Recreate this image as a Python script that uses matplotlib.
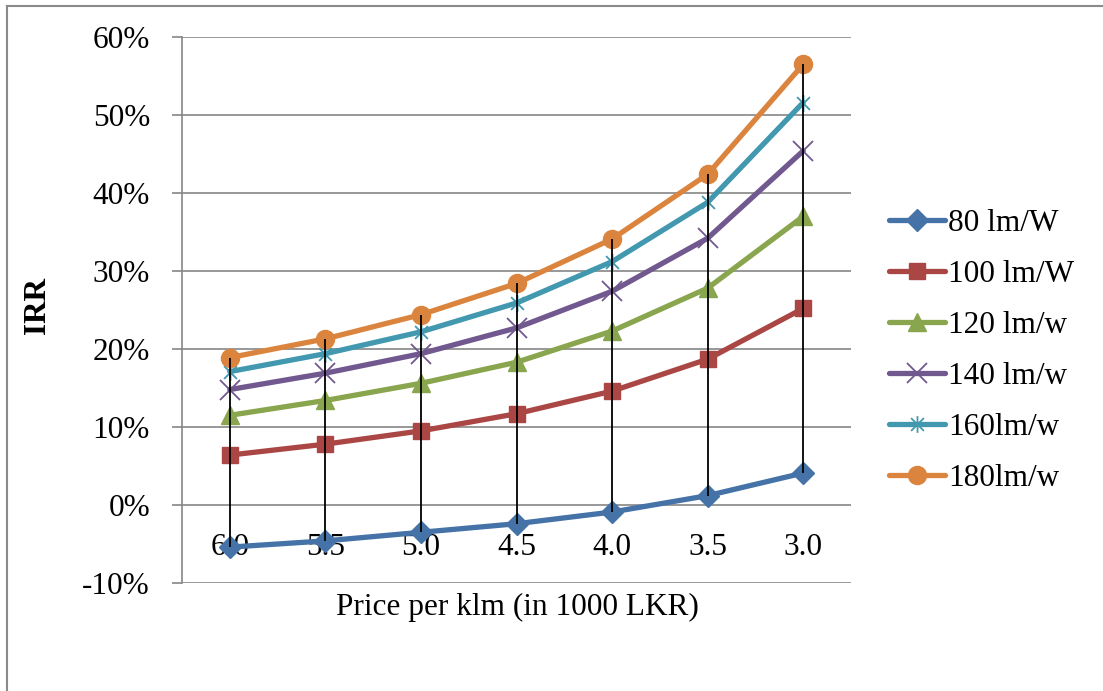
import matplotlib
matplotlib.use("Agg")
import matplotlib.pyplot as plt
from matplotlib.path import Path
from matplotlib.lines import Line2D
import numpy as np

plt.rcParams['font.family'] = ['Liberation Serif', 'DejaVu Serif']

categories = ["6.0", "5.5", "5.0", "4.5", "4.0", "3.5", "3.0"]
series_names = ["80 lm/W", "100 lm/W", "120 lm/w", "140 lm/w", "160lm/w", "180lm/w"]
irr_80 = [-5.4, -4.6, -3.5, -2.4, -0.9, 1.2, 4.1]
irr_100 = [6.4, 7.8, 9.5, 11.7, 14.6, 18.7, 25.2]
irr_120 = [11.5, 13.4, 15.6, 18.3, 22.3, 27.8, 37.0]
irr_140 = [14.8, 16.9, 19.4, 22.7, 27.4, 34.2, 45.4]
irr_160 = [17.1, 19.4, 22.2, 25.9, 31.2, 38.8, 51.6]
irr_180 = [18.9, 21.3, 24.4, 28.4, 34.1, 42.4, 56.5]
yticks = [-10, 0, 10, 20, 30, 40, 50, 60]

colors = ["#4572A7", "#AA4643", "#89A54E", "#71588F", "#4198AF", "#DB843D"]

star = Path([(-1, -1), (1, 1), (-1, 1), (1, -1), (0, -1.3), (0, 1.3)],
            [Path.MOVETO, Path.LINETO, Path.MOVETO, Path.LINETO, Path.MOVETO, Path.LINETO])
markers = ["D", "s", "^", "x", star, "o"]
msizes = [11, 12, 13, 14, 12, 13]

FS = 22.5

fig = plt.figure(figsize=(11.03, 6.91), dpi=100)
ax = fig.add_axes([182/1103, 1-583/691, (851-182)/1103, (583-37)/691])

x = np.arange(len(categories))
data = [irr_80, irr_100, irr_120, irr_140, irr_160, irr_180]
handles = []
for vals, name, c, m, ms in zip(data, series_names, colors, markers, msizes):
    filled = (m != "x") and (m is not star)
    h, = ax.plot(x, vals, color=c, lw=3.8, marker=m, markersize=ms,
                 markerfacecolor=c, markeredgecolor=c,
                 markeredgewidth=1.3 if not filled else 1.0,
                 solid_capstyle='round', label=name, zorder=3)
    handles.append(h)

# high-low lines
arr = np.array(data)
ax.vlines(x, arr.min(axis=0), arr.max(axis=0), colors='black', lw=1.3, zorder=5)

ax.set_xlim(-0.5, len(categories) - 0.5)
ax.set_ylim(-10, 60)
ax.set_yticks(yticks)
ax.set_yticklabels([f"{v}%" for v in yticks], fontsize=FS)
ax.set_xticks([])
grid_c = "#868686"
for v in yticks:
    ax.axhline(v, color=grid_c, lw=1.2, zorder=1)
for s in ['top', 'right', 'bottom']:
    ax.spines[s].set_visible(False)
ax.spines['left'].set_color(grid_c)
ax.spines['left'].set_linewidth(1.2)
ax.tick_params(axis='y', length=7, width=1.2, color=grid_c, pad=16)

for i, lab in enumerate(categories):
    ax.annotate(lab, xy=(i, 0), xytext=(0, -36), textcoords='offset points',
                ha='center', va='baseline', fontsize=FS, zorder=2)

fig.text(517/1103, 1-607/691, "Price per klm (in 1000 LKR)", ha='center', va='center', fontsize=FS)
fig.text(37/1103, 1-305/691, "IRR", ha='center', va='center', rotation=90,
         fontsize=FS, fontweight='bold')

leg = fig.legend(handles=handles, loc='center left',
                 bbox_to_anchor=(889/1103, 1-351/691), frameon=False,
                 fontsize=FS, handlelength=1.8, handletextpad=0.1,
                 labelspacing=0.7, borderaxespad=0, borderpad=0)

# outer border (top and left visible)
fig.add_artist(Line2D([7/1103, 1.0], [1-6/691, 1-6/691], transform=fig.transFigure,
                      color="#8a8a8a", lw=1.5))
fig.add_artist(Line2D([7/1103, 7/1103], [0, 1-6/691], transform=fig.transFigure,
                      color="#8a8a8a", lw=1.5))

fig.savefig("out.png", dpi=100)
